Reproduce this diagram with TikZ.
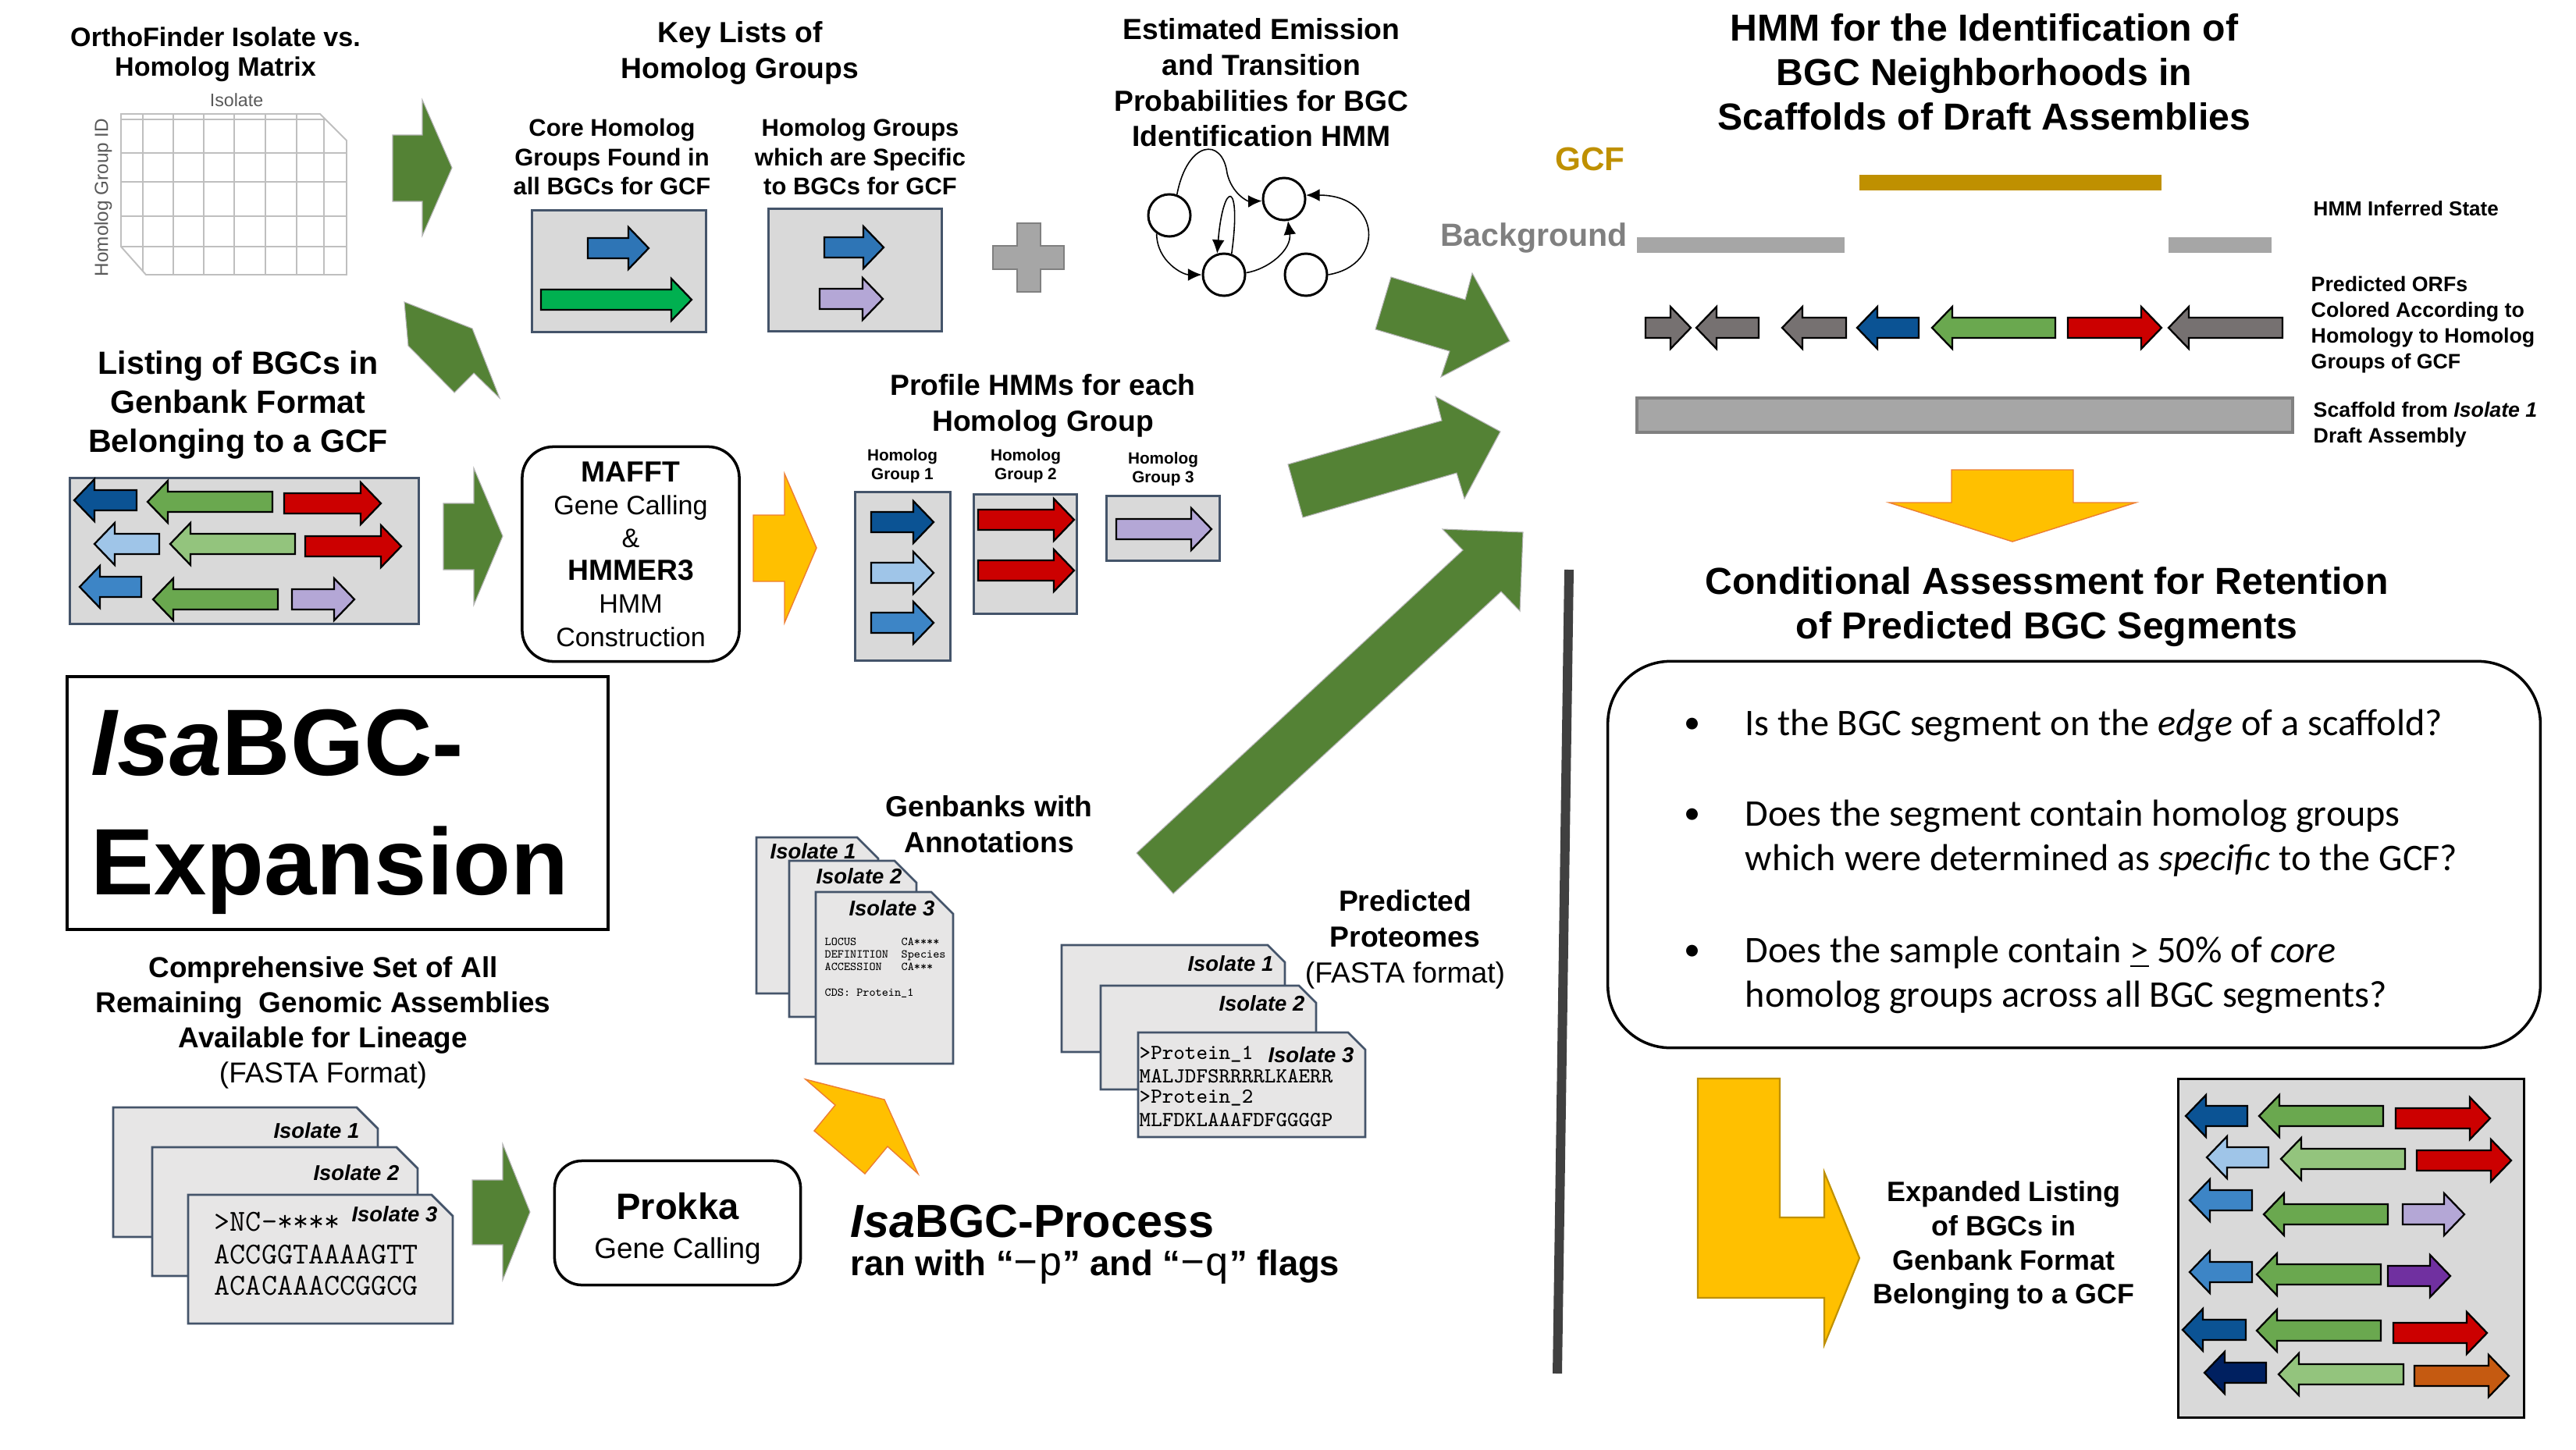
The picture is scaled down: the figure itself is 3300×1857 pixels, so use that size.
\documentclass[tikz,border=0pt]{standalone}
\usepackage{fontspec}
\setmainfont{Liberation Sans}
\newfontfamily\libmono{Liberation Mono}
\newfontfamily\calfont{Carlito}
\usetikzlibrary{arrows.meta}
\definecolor{gA}{HTML}{548235}
\definecolor{yA}{HTML}{FFC000}
\definecolor{yB}{HTML}{ED7D31}
\definecolor{gold}{HTML}{BF9000}
\definecolor{boxg}{HTML}{D9D9D9}
\definecolor{slate}{HTML}{44546A}
\definecolor{docg}{HTML}{E7E6E6}
\definecolor{cDB}{HTML}{0B5394}
\definecolor{cLB}{HTML}{9FC5E8}
\definecolor{cMB}{HTML}{3D85C6}
\definecolor{cG}{HTML}{6AA84F}
\definecolor{cLG}{HTML}{93C47D}
\definecolor{cR}{HTML}{CC0000}
\definecolor{cL}{HTML}{B4A7D6}
\definecolor{cP}{HTML}{7030A0}
\definecolor{cN}{HTML}{002060}
\definecolor{cO}{HTML}{C55A11}
\definecolor{cGr}{HTML}{767171}
\definecolor{cB2}{HTML}{2E75B6}
\definecolor{cG2}{HTML}{00B050}
\definecolor{bgG}{HTML}{A6A6A6}
\newcommand\fsz[2]{\fontsize{#1}{#2}\selectfont}
\newcommand\gene[4]{%
  \pgfmathsetmacro\gd{(#2>#1)?1:-1}%
  \pgfmathsetmacro\gb{#2-\gd*26}%
  \draw[genearrow,fill=#4] (#1,#3-13) -- (\gb,#3-13) -- (\gb,#3-27) -- (#2,#3) -- (\gb,#3+27) -- (\gb,#3+13) -- (#1,#3+13) -- cycle;}
\newcommand\gbox[6]{%
  \pgfmathsetlengthmacro\bwd{(#4-#2)*0.01cm}%
  \pgfmathsetlengthmacro\bht{(#5-#3)*0.01cm}%
  \node[#6, anchor=north west, minimum width=\bwd, minimum height=\bht, inner sep=0pt] (#1) at (#2,#3) {};}
\newcommand\docshape[5]{\draw[doc] (#1,#2) -- (#3-#5,#2) -- (#3,#2+#5) -- (#3,#4) -- (#1,#4) -- cycle;}
\begin{document}
\begin{tikzpicture}[x=0.01cm,y=-0.01cm,
  txt/.style={inner sep=0pt, align=center},
  ttl/.style={txt, font=\fsz{10.6pt}{13pt}\bfseries},
  lbl/.style={inner sep=0pt, font=\fsz{7.8pt}{9pt}\bfseries\itshape},
  greenarr/.style={fill=gA, draw=black!30, line width=0.3pt},
  yelarr/.style={fill=yA, draw=yB, line width=0.4pt},
  graybox/.style={fill=boxg, draw=slate, line width=0.8pt},
  genearrow/.style={draw=black, line width=0.65pt, line join=miter},
  doc/.style={fill=docg, draw=slate, line width=0.8pt},
  rbox/.style={draw=black, line width=1pt, fill=white, rounded corners=0.4cm},
  state/.style={circle, draw, line width=0.85pt, minimum size=0.54cm, inner sep=0pt},
  edge/.style={line width=0.45pt, -{Latex[length=5pt,width=4.5pt]}},
  grid/.style={draw=black!25, line width=0.55pt},
]
\fill[white] (0,0) rectangle (3300,1857);
\useasboundingbox (0,0) rectangle (3300,1857);

% ---------- Ortho matrix ----------
\node[txt, font=\fsz{9.7pt}{10.8pt}\bfseries] (tOrtho) at (276,70) {OrthoFinder Isolate vs.\\Homolog Matrix};
\node[txt, font=\fsz{6.6pt}{7pt}, text=black!65] (tIso) at (303,128) {Isolate};
\node[txt, font=\fsz{6.9pt}{7pt}, text=black!65, rotate=90] (tHG) at (132,253) {Homolog Group ID};
\begin{scope}
\clip (155,146) -- (410,146) -- (444,180) -- (444,352) -- (187,352) -- (155,316) -- cycle;
\foreach \x in {183,222,261,300,340,380,415} \draw[grid] (\x,140) -- (\x,360);
\foreach \y in {153,196,233,277,316} \draw[grid] (150,\y) -- (450,\y);
\end{scope}
\draw[grid] (155,146) -- (410,146) -- (444,180) -- (444,352) -- (187,352) -- (155,316) -- cycle;

% ---------- green arrows left ----------
\draw[greenarr] (503,173) -- (541,173) -- (541,128) -- (579,215) -- (541,302) -- (541,258) -- (503,258) -- cycle;
\draw[greenarr] (518,387) -- (605,421) -- (640,510) -- (607,478) -- (582,503) -- (523,443) -- cycle;
\draw[greenarr] (568,645) -- (607,645) -- (607,600) -- (644,687) -- (607,775) -- (607,730) -- (568,730) -- cycle;
\draw[greenarr] (605,1512) -- (644,1512) -- (644,1466) -- (679,1553) -- (644,1640) -- (644,1595) -- (605,1595) -- cycle;

% ---------- Key lists ----------
\node[ttl] (tKey) at (948,68) {Key Lists of\\Homolog Groups};
\node[txt, font=\fsz{8.8pt}{10.7pt}\bfseries] (tCore) at (784,201) {Core Homolog\\Groups Found in\\all BGCs for GCF};
\node[txt, font=\fsz{8.8pt}{10.7pt}\bfseries] (tSpec) at (1102,201) {Homolog Groups\\which are Specific\\to BGCs for GCF};
\gbox{bCore}{680}{268}{903}{424}{graybox}
\gene{753}{831}{318}{cB2}
\gene{693}{886}{384}{cG2}
\gbox{bSpec}{983}{266}{1205}{423}{graybox}
\gene{1056}{1132}{317}{cB2}
\gene{1050}{1131}{383}{cL}
\draw[fill=bgG, draw=black!50, line width=0.6pt] (1303,286) -- (1333,286) -- (1333,315) -- (1363,315) -- (1363,345) -- (1333,345) -- (1333,374) -- (1303,374) -- (1303,345) -- (1272,345) -- (1272,315) -- (1303,315) -- cycle;

% ---------- HMM states ----------
\node[ttl] (tEst) at (1616,106) {Estimated Emission\\and Transition\\Probabilities for BGC\\Identification HMM};
\node[state] (E1) at (1498,276) {};
\node[state] (E2) at (1645,255) {};
\node[state] (E3) at (1568,352) {};
\node[state] (E4) at (1673,352) {};
\draw[edge] (E1.70) .. controls (1521,180) and (1566,175) .. (1572,222) .. controls (1578,248) and (1598,258) .. (E2.185);
\draw[edge] (E1.235) .. controls (1482,335) and (1515,352) .. (E3.180);
\draw[edge] (E3.70) .. controls (1591,230) and (1567,230) .. (E3.108);
\draw[edge] (E3.5) .. controls (1625,345) and (1655,320) .. (E2.-80);
\draw[edge] (E4.0) .. controls (1775,340) and (1770,250) .. (E2.10);

% ---------- green arrows to right panel ----------
\draw[greenarr] (1782,355) -- (1877,384) -- (1886,350) -- (1934,437) -- (1846,483) -- (1857,450) -- (1762,422) -- cycle;
\draw[greenarr] (1650,595) -- (1847,539) -- (1839,508) -- (1922,553) -- (1876,639) -- (1866,606) -- (1669,663) -- cycle;
\draw[greenarr] (1456,1093) -- (1874,705) -- (1848,678) -- (1951,682) -- (1947,783) -- (1923,758) -- (1503,1145) -- cycle;

% ---------- HMM panel ----------
\node[txt, font=\fsz{13.7pt}{16.2pt}\bfseries] (tHMM) at (2542,92) {HMM for the Identification of\\BGC Neighborhoods in\\Scaffolds of Draft Assemblies};
\node[txt, font=\fsz{12pt}{14pt}\bfseries, text=gold] (tGCF) at (2037,204) {GCF};
\node[txt, font=\fsz{11.7pt}{14pt}\bfseries, text=black!50] (tBg) at (1965,305) {Background};
\fill[gold] (2382,224) rectangle (2769,244);
\fill[bgG] (2097,304) rectangle (2363,324);
\fill[bgG] (2778,304) rectangle (2910,324);
\node[txt, anchor=west, font=\fsz{7.4pt}{9pt}\bfseries] (tInf) at (2963,267) {HMM Inferred State};
\gene{2108}{2166}{420}{cGr}
\gene{2253}{2173}{420}{cGr}
\gene{2365}{2283}{420}{cGr}
\gene{2458}{2379}{420}{cDB}
\gene{2633}{2475}{420}{cG}
\gene{2649}{2769}{420}{cR}
\gene{2924}{2778}{420}{cGr}
\node[txt, anchor=west, align=left, font=\fsz{7.6pt}{9.4pt}\bfseries] (tORF) at (2960,416) {Predicted ORFs\\Colored According to\\Homology to Homolog\\Groups of GCF};
\draw[fill=bgG, draw=black!50, line width=0.9pt] (2097,510) rectangle (2937,554);
\node[txt, anchor=west, align=left, font=\fsz{7.6pt}{9.2pt}\bfseries] (tScaf) at (2963,544) {Scaffold from \textit{Isolate 1}\\Draft Assembly};
\draw[yelarr] (2500,602) -- (2656,602) -- (2656,644) -- (2736,644) -- (2578,694) -- (2420,644) -- (2500,644) -- cycle;

% ---------- Listing of BGCs ----------
\node[txt, font=\fsz{11.7pt}{14.2pt}\bfseries] (tList) at (305,519) {Listing of BGCs in\\Genbank Format\\Belonging to a GCF};
\gbox{bList}{88}{611}{535}{798}{graybox}
\gene{175}{95}{641}{cDB}
\gene{349}{189}{643}{cG}
\gene{364}{488}{645}{cR}
\gene{204}{121}{697}{cLB}
\gene{378}{218}{697}{cLG}
\gene{391}{514}{700}{cR}
\gene{181}{102}{752}{cMB}
\gene{356}{196}{768}{cG}
\gene{374}{454}{768}{cL}

% ---------- MAFFT ----------
\node[rbox, minimum width=2.78cm, minimum height=2.75cm, align=center, font=\fsz{9.7pt}{12pt}] (bMafft) at (808,710)
 {{\fontsize{10.6pt}{12pt}\selectfont\bfseries MAFFT}\\Gene Calling\\\&\\{\fontsize{10.6pt}{12pt}\selectfont\bfseries HMMER3}\\HMM\\Construction};
\draw[yelarr] (965,660) -- (1005,660) -- (1005,607) -- (1046,702) -- (1005,798) -- (1005,745) -- (965,745) -- cycle;

% ---------- Profile HMMs ----------
\node[ttl] (tProf) at (1336,520) {Profile HMMs for each\\Homolog Group};
\node[txt, font=\fsz{5.9pt}{6.8pt}\bfseries] (tG1) at (1156,597) {Homolog\\Group 1};
\node[txt, font=\fsz{5.9pt}{6.8pt}\bfseries] (tG2) at (1314,597) {Homolog\\Group 2};
\node[txt, font=\fsz{5.9pt}{6.8pt}\bfseries] (tG3) at (1490,601) {Homolog\\Group 3};
\gbox{bP1}{1094}{629}{1216}{845}{graybox}
\gbox{bP2}{1246}{632}{1378}{785}{graybox}
\gbox{bP3}{1416}{634}{1561}{717}{graybox}
\gene{1116}{1196}{669}{cDB}
\gene{1116}{1196}{734}{cLB}
\gene{1116}{1196}{798}{cMB}
\gene{1253}{1376}{666}{cR}
\gene{1253}{1376}{731}{cR}
\gene{1430}{1552}{678}{cL}

% ---------- IsaBGC-Expansion ----------
\gbox{bExp}{84}{865}{777}{1189}{draw=black, line width=1pt, fill=white}
\node[txt, anchor=west, align=left, font=\fsz{34.4pt}{43.5pt}\bfseries] (tExp) at (116,1040) {\textit{Isa}BGC-\\Expansion};

% ---------- Comprehensive / FASTA docs ----------
\node[txt, font=\fsz{10.5pt}{12.8pt}\bfseries] (tComp) at (414,1310) {Comprehensive Set of All\\Remaining\ \ Genomic Assemblies\\Available for Lineage\\\mdseries (FASTA Format)};
\docshape{145}{1419}{484}{1585}{27}
\node[lbl, anchor=east] (fa1) at (461,1449) {Isolate 1};
\docshape{195}{1470}{535}{1635}{27}
\node[lbl, anchor=east] (fa2) at (512,1503) {Isolate 2};
\docshape{241}{1531}{580}{1696}{27}
\node[lbl, anchor=east] (fa3) at (561,1556) {Isolate 3};
\node[inner sep=0pt, anchor=west, font=\ttfamily\fsz{11.1pt}{12pt}] (fs1) at (274,1566) {>NC-****};
\node[inner sep=0pt, anchor=west, font=\ttfamily\fsz{11.1pt}{12pt}] (fs2) at (274,1608) {ACCGGTAAAAGTT};
\node[inner sep=0pt, anchor=west, font=\ttfamily\fsz{11.1pt}{12pt}] (fs3) at (274,1648) {ACACAAACCGGCG};

\node[rbox, rounded corners=0.35cm, minimum width=3.15cm, minimum height=1.59cm] (bProk) at (868,1567) {};
\node[txt, font=\fsz{10.5pt}{14.3pt}] (tProk) at (868,1574) {{\fontsize{13.4pt}{14.3pt}\selectfont\bfseries Prokka}\\Gene Calling};

% ---------- IsaBGC-Process ----------
\draw[yelarr] (1032,1383) -- (1133,1409) -- (1176,1504) -- (1137,1469) -- (1108,1504) -- (1043,1449) -- (1070,1416) -- cycle;
\node[txt, anchor=west, font=\fsz{16.9pt}{18pt}\bfseries] (tProc) at (1089,1565) {\textit{Isa}BGC-Process};
\node[txt, anchor=west, font=\fsz{12.9pt}{14pt}\bfseries] (tFlags) at (1089,1623) {ran with “{\libmono\mdseries\fontsize{14.8pt}{14pt}\selectfont −p}” and “{\libmono\mdseries\fontsize{14.8pt}{14pt}\selectfont −q}” flags};

% ---------- Genbank docs ----------
\node[ttl] (tGb) at (1267,1056) {Genbanks with\\Annotations};
\docshape{969}{1073}{1125}{1273}{27}
\node[lbl, anchor=west] (gb1) at (986,1091) {Isolate 1};
\docshape{1011}{1103}{1174}{1303}{28}
\node[lbl, anchor=east] (gb2) at (1156,1123) {Isolate 2};
\docshape{1045}{1143}{1221}{1363}{28}
\node[lbl, anchor=east] (gb3) at (1198,1164) {Isolate 3};
\node[inner sep=0pt, anchor=north west, align=left, font=\ttfamily\fsz{4.35pt}{4.55pt}] (gbt1) at (1056,1201) {LOCUS\\DEFINITION\\ACCESSION};
\node[inner sep=0pt, anchor=north west, align=left, font=\ttfamily\fsz{4.35pt}{4.55pt}] (gbt2) at (1154,1201) {CA****\\Species\\CA***};
\node[inner sep=0pt, anchor=west, font=\ttfamily\fsz{4.35pt}{4.55pt}] (gbt3) at (1056,1273) {CDS: Protein\_1};

% ---------- Proteome docs ----------
\node[ttl] (tProt) at (1800,1204) {Predicted\\Proteomes\\\mdseries(FASTA format)};
\docshape{1360}{1211}{1646}{1348}{22}
\node[lbl, anchor=east] (pr1) at (1632,1235) {Isolate 1};
\docshape{1410}{1263}{1686}{1396}{22}
\node[lbl, anchor=east] (pr2) at (1672,1286) {Isolate 2};
\docshape{1458}{1323}{1749}{1457}{22}
\node[lbl, anchor=east] (pr3) at (1735,1352) {Isolate 3};
\node[inner sep=0pt, anchor=west, font=\ttfamily\fsz{7.8pt}{8pt}] (ps1) at (1459,1351) {>Protein\_1};
\node[inner sep=0pt, anchor=west, font=\ttfamily\fsz{7.8pt}{8pt}] (ps2) at (1459,1379) {MALJDFSRRRRLKAERR};
\node[inner sep=0pt, anchor=west, font=\ttfamily\fsz{7.8pt}{8pt}] (ps3) at (1459,1407) {>Protein\_2};
\node[inner sep=0pt, anchor=west, font=\ttfamily\fsz{7.8pt}{8pt}] (ps4) at (1459,1435) {MLFDKLAAAFDFGGGGP};

% ---------- divider ----------
\draw[line width=3.4pt, draw=black!75] (2010,730) -- (1995,1760);

% ---------- Conditional assessment ----------
\node[txt, font=\fsz{13.7pt}{16.2pt}\bfseries] (tCond) at (2622,778) {Conditional Assessment for Retention\\of Predicted BGC Segments};
\node[draw, line width=1pt, rounded corners=0.8cm, minimum width=11.94cm, minimum height=4.95cm] (bCond) at (2657,1095) {};
\node[txt, font=\calfont\fsz{12pt}{16.2pt}] (bu1) at (2168,930) {•};
\node[txt, font=\calfont\fsz{12pt}{16.2pt}] (bu2) at (2168,1046) {•};
\node[txt, font=\calfont\fsz{12pt}{16.2pt}] (bu3) at (2168,1221) {•};
\node[txt, anchor=west, align=left, font=\calfont\fsz{13.7pt}{16.2pt}] (q1) at (2235,930) {Is the BGC segment on the \textit{edge} of a scaffold?};
\node[txt, anchor=west, align=left, font=\calfont\fsz{13.7pt}{16.2pt}] (q2) at (2235,1074) {Does the segment contain homolog groups\\which were determined as \textit{specific} to the GCF?};
\node[txt, anchor=west, align=left, font=\calfont\fsz{13.7pt}{16.2pt}] (q3) at (2235,1249) {Does the sample contain \underline{>} 50\% of \textit{core}\\homolog groups across all BGC segments?};

% ---------- Expanded listing ----------
\draw[fill=yA, draw=gold, line width=0.6pt] (2175,1382) -- (2280,1382) -- (2280,1560) -- (2337,1560) -- (2337,1502) -- (2382,1612) -- (2337,1723) -- (2337,1663) -- (2175,1663) -- cycle;
\node[txt, font=\fsz{10.2pt}{12.4pt}\bfseries] (tExpd) at (2567,1596) {Expanded Listing\\of BGCs in\\Genbank Format\\Belonging to a GCF};
\gbox{bExpd}{2789}{1381}{3232}{1815}{fill=boxg, draw=black, line width=0.9pt}
\gene{2879}{2800}{1430}{cDB}
\gene{3053}{2894}{1430}{cG}
\gene{3069}{3190}{1433}{cR}
\gene{2906}{2827}{1483}{cLB}
\gene{3081}{2922}{1485}{cLG}
\gene{3096}{3217}{1487}{cR}
\gene{2885}{2805}{1538}{cMB}
\gene{3059}{2900}{1556}{cG}
\gene{3078}{3157}{1556}{cL}
\gene{2885}{2805}{1630}{cMB}
\gene{3050}{2891}{1633}{cG}
\gene{3059}{3139}{1635}{cP}
\gene{2877}{2796}{1704}{cDB}
\gene{3050}{2891}{1705}{cG}
\gene{3066}{3186}{1708}{cR}
\gene{2903}{2824}{1759}{cN}
\gene{3079}{2919}{1761}{cLG}
\gene{3093}{3214}{1763}{cO}
\end{tikzpicture}
\end{document}
